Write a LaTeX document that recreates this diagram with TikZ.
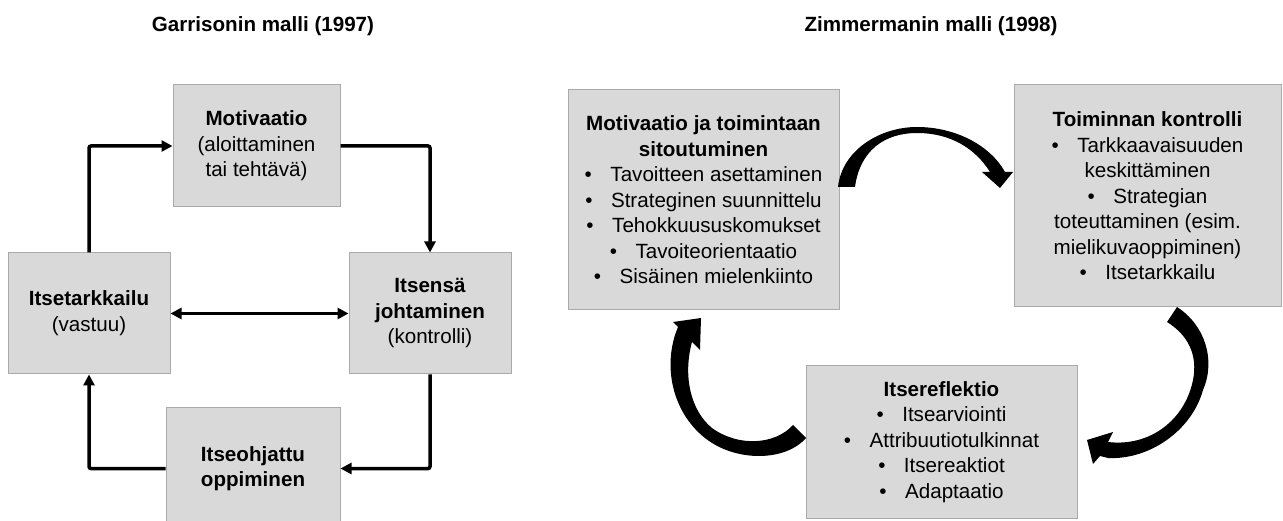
\documentclass[tikz,border=0pt]{standalone}
\usepackage{fontspec}
\setmainfont{Liberation Sans}
\usetikzlibrary{arrows.meta}
\definecolor{boxfill}{RGB}{217,217,217}
\definecolor{boxline}{RGB}{170,170,170}
\newcommand\mybul{•\hspace{0.9em}}
\begin{document}
\begin{tikzpicture}[x=1pt,y=-1pt,
  box/.style={draw=boxline, line width=1pt, fill=boxfill, inner sep=0pt, align=center,
    font=\fontsize{20.6}{25.5}\selectfont},
  ttl/.style={anchor=base, font=\bfseries\fontsize{20.6}{25}\selectfont},
  conn/.style={line width=3.5pt, rounded corners=2pt, -{Triangle[length=11pt,width=11pt]}},
  blockarrow/.style={fill=black}]
\clip (0,0) rectangle (1283,521);
% titles
\node[ttl] (t1) at (263,32) {Garrisonin malli (1997)};
\node[ttl] (t2) at (931,32) {Zimmermanin malli (1998)};
% left model
\node[box, minimum width=167pt, minimum height=122pt] (mot) at (256.5,146)
  {\textbf{Motivaatio}\\(aloittaminen\\tai tehtävä)};
\node[box, minimum width=162pt, minimum height=121pt] (lt) at (89,313.5)
  {\raisebox{-7pt}{\begin{tabular}{@{}c@{}}\textbf{Itsetarkkailu}\\(vastuu)\end{tabular}}};
\node[box, minimum width=162pt, minimum height=121pt] (lr) at (430,313.5)
  {\textbf{Itsensä}\\\textbf{johtaminen}\\(kontrolli)};
\node[box, minimum width=174pt, minimum height=123pt] (ob) at (253,468.5)
  {\textbf{Itseohjattu}\\\textbf{oppiminen}};
\draw[conn] (lt.north) |- (mot.west);
\draw[conn] (mot.east) -| (lr.north);
\draw[line width=3.5pt, {Triangle[length=11pt,width=11pt]}-{Triangle[length=11pt,width=11pt]}] (lt.east) -- (lr.west);
\draw[conn] (lr.south) |- (ob.east);
\draw[conn] (ob.west) -| (lt.south);
% right model
\node[box, minimum width=271pt, minimum height=220pt] (za) at (703.5,200)
  {\textbf{Motivaatio ja toimintaan}\\\textbf{sitoutuminen}\\\mybul Tavoitteen asettaminen\\\mybul Strateginen suunnittelu\\\mybul Tehokkuususkomukset\\\mybul Tavoiteorientaatio\\\mybul Sisäinen mielenkiinto};
\node[box, minimum width=267pt, minimum height=222pt] (zb) at (1147.5,196)
  {\textbf{Toiminnan kontrolli}\\\mybul Tarkkaavaisuuden\\keskittäminen\\\mybul Strategian\\toteuttaminen (esim.\\mielikuvaoppiminen)\\\mybul Itsetarkkailu};
\node[box, minimum width=271pt, minimum height=152pt] (zc) at (941.5,442)
  {\textbf{Itsereflektio}\\\mybul Itsearviointi\\\mybul Attribuutiotulkinnat\\\mybul Itsereaktiot\\\mybul Adaptaatio};
% curved block arrows
\fill[blockarrow] (838,187) .. controls (842,150) and (880,127) .. (917,127)
  .. controls (955,127) and (990,145) .. (1005,172) -- (1013,172) -- (1000,188) -- (982,172) -- (990,172)
  .. controls (975,148) and (950,133) .. (917,133)
  .. controls (885,133) and (860,150) .. (855,187) -- cycle;
\fill[blockarrow] (1177,307) .. controls (1205,325) and (1216,360) .. (1203,390)
  .. controls (1192,430) and (1150,460) .. (1108,458) -- (1100,456) -- (1093,464) -- (1087,440) -- (1113,432) -- (1108,442)
  .. controls (1150,447) and (1185,420) .. (1193,380)
  .. controls (1198,355) and (1188,335) .. (1167,322) -- cycle;
\fill[blockarrow] (806,438) .. controls (785,462) and (735,462) .. (705,438)
  .. controls (672,412) and (662,365) .. (678,327) -- (673,322) -- (701,318) -- (700,350) -- (692,342)
  .. controls (683,375) and (690,410) .. (712,428)
  .. controls (738,447) and (775,445) .. (793,425) -- cycle;
\end{tikzpicture}
\end{document}
